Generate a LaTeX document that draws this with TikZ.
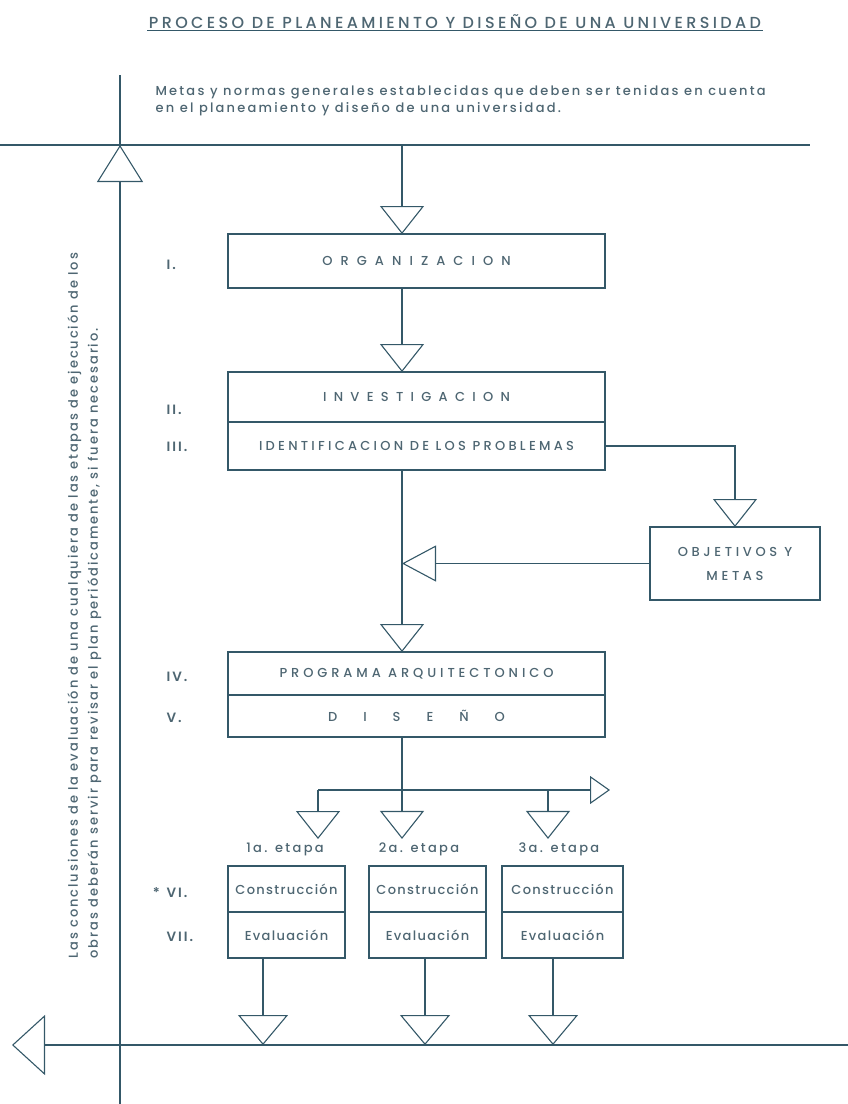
\documentclass[tikz,border=0pt]{standalone}
\usepackage{fontspec}
\setmainfont{Poppins}[UprightFont={* Medium}, BoldFont={* SemiBold}]
\usetikzlibrary{arrows.meta, positioning, calc}
\definecolor{ink}{RGB}{52,88,104}
\definecolor{inktext}{RGB}{78,102,114}
\newcommand{\spaced}[2]{{\addfontfeatures{LetterSpace=#1}#2}}

\begin{document}
\begin{tikzpicture}[x=1pt, y=-1pt,
    every node/.style={text=inktext},
    rule/.style={draw=ink, line width=1.4pt},
    flow/.style={rule, -{Triangle[open, length=28pt, width=44pt, line width=1.1pt]}},
    mainbox/.style={draw=ink, line width=1.4pt, minimum width=377pt, inner sep=0pt, outer sep=0pt, font=\fontsize{13}{15}\selectfont},
    stagebox/.style={draw=ink, line width=1.4pt, minimum height=46pt, inner sep=0pt, outer sep=0pt, font=\fontsize{13}{15}\selectfont},
    numeral/.style={anchor=west, font=\fontsize{13.5}{15}\selectfont\bfseries}]

    \useasboundingbox (0,0) rectangle (848,1104);

    % Title
    \node[inner sep=1.5pt, font=\fontsize{16}{18}\selectfont] (title) at (455,22)
        {\spaced{21}{PROCESO DE PLANEAMIENTO Y DISEÑO DE UNA UNIVERSIDAD}};
    \draw[rule, line width=1.1pt] (title.south west) -- (title.south east);

    % Frame lines
    \coordinate (vtop) at (120,75);
    \coordinate (vjoin) at (120,145);
    \coordinate (vbot) at (120,1104);
    \coordinate (topR) at (810,145);
    \coordinate (topL) at (0,145);
    \coordinate (botR) at (848,1045);
    \coordinate (botL) at (12,1045);
    \draw[rule] (topL) -- (topR);
    \draw[rule] (vtop) -- (vjoin);
    \draw[rule, -{Triangle[open, length=37pt, width=46pt, line width=1.1pt]}] (vbot) -- (vjoin);
    \draw[rule, -{Triangle[open, length=33pt, width=60pt, line width=1.1pt]}] (botR) -- (botL);

    \node[anchor=north west, align=left, font=\fontsize{13}{17}\selectfont] (goals) at (152,82)
        {\spaced{17}{Metas y normas generales establecidas que deben ser tenidas en cuenta}\\
         \spaced{17}{en el planeamiento y diseño de una universidad.}};

    \node[rotate=90, anchor=north west, align=left, font=\fontsize{13}{20}\selectfont] (note) at (64,962)
        {\spaced{15}{Las conclusiones de la evaluación de una cualquiera de las etapas de ejecución de los}\\
         \spaced{15}{obras deberán servir para revisar el plan periódicamente, si fuera necesario.}};

    % Main column
    \coordinate (spine) at (402,145);
    \node[mainbox, minimum height=54pt] (org) at (416.5,261) {\spaced{62}{ORGANIZACION}};
    \node[mainbox, minimum height=50pt] (inv) at (416.5,397) {\spaced{56}{INVESTIGACION}};
    \node[mainbox, minimum height=48pt, below=0pt of inv] (idn) {\spaced{25}{IDENTIFICACION DE LOS PROBLEMAS}};
    \node[draw=ink, line width=1.4pt, minimum width=170pt, minimum height=73pt, outer sep=0pt,
          align=center, font=\fontsize{13}{24}\selectfont] (obj) at (735,563.5)
        {\spaced{28}{OBJETIVOS Y}\\\spaced{28}{METAS}};
    \node[mainbox, minimum height=43pt] (prog) at (416.5,673.5) {\spaced{30}{PROGRAMA ARQUITECTONICO}};
    \node[mainbox, minimum height=42pt, below=0pt of prog] (dis) {\spaced{200}{DISEÑO}};

    \node[numeral] (n1) at (163,265) {\spaced{15}{I.}};
    \node[numeral] (n2) at (163,410) {\spaced{15}{II.}};
    \node[numeral] (n3) at (163,447) {\spaced{15}{III.}};
    \node[numeral] (n4) at (163,677) {\spaced{15}{IV.}};
    \node[numeral] (n5) at (163,718) {\spaced{15}{V.}};
    \node[numeral] (n6) at (163,893) {\llap{*\,\,\,}\spaced{15}{VI.}};
    \node[numeral] (n7) at (163,937) {\spaced{15}{VII.}};

    \draw[flow] (spine) -- (spine |- org.north);
    \draw[flow] (spine |- org.south) -- (spine |- inv.north);
    \draw[rule] (idn.east) -| ($(obj.north)+(0,-32)$);
    \draw[flow] (idn.east -| obj.north) -- (obj.north);
    \draw[rule, -{Triangle[open, length=34pt, width=36pt, line width=1.1pt]}] (obj.west) -- (spine |- obj.west);
    \draw[flow] (spine |- idn.south) -- (spine |- prog.north);

    % Stages
    \coordinate (bus) at (402,790);
    \coordinate (d1) at (318,790);
    \coordinate (d2) at (402,790);
    \coordinate (d3) at (548,790);
    \coordinate (busR) at (610,790);
    \draw[rule] (spine |- dis.south) -- (bus);
    \draw[rule, -{Triangle[open, length=20pt, width=28pt, line width=1.1pt]}] (d1) -- (busR);

    \node[font=\fontsize{13}{15}\selectfont] (e1) at (285,849) {\spaced{18}{1a. etapa}};
    \node[font=\fontsize{13}{15}\selectfont] (e2) at (419,849) {\spaced{18}{2a. etapa}};
    \node[font=\fontsize{13}{15}\selectfont] (e3) at (559,849) {\spaced{18}{3a. etapa}};
    \draw[flow] (d1) -- (d1 |- e1.north);
    \draw[flow] (d2) -- (d2 |- e2.north);
    \draw[flow] (d3) -- (d3 |- e3.north);

    \node[stagebox, minimum width=117pt] (con1) at (286.5,889) {\spaced{10}{Construcción}};
    \node[stagebox, minimum width=117pt, below=0pt of con1] (ev1) {\spaced{10}{Evaluación}};
    \node[stagebox, minimum width=117pt] (con2) at (427.5,889) {\spaced{10}{Construcción}};
    \node[stagebox, minimum width=117pt, below=0pt of con2] (ev2) {\spaced{10}{Evaluación}};
    \node[stagebox, minimum width=121pt] (con3) at (562.5,889) {\spaced{10}{Construcción}};
    \node[stagebox, minimum width=121pt, below=0pt of con3] (ev3) {\spaced{10}{Evaluación}};

    \coordinate (f1) at (263,1045);
    \coordinate (f2) at (425,1045);
    \coordinate (f3) at (553,1045);
    \draw[rule, -{Triangle[open, length=30pt, width=50pt, line width=1.1pt]}] (ev1.south -| f1) -- (f1);
    \draw[rule, -{Triangle[open, length=30pt, width=50pt, line width=1.1pt]}] (ev2.south -| f2) -- (f2);
    \draw[rule, -{Triangle[open, length=30pt, width=50pt, line width=1.1pt]}] (ev3.south -| f3) -- (f3);
\end{tikzpicture}
\end{document}
